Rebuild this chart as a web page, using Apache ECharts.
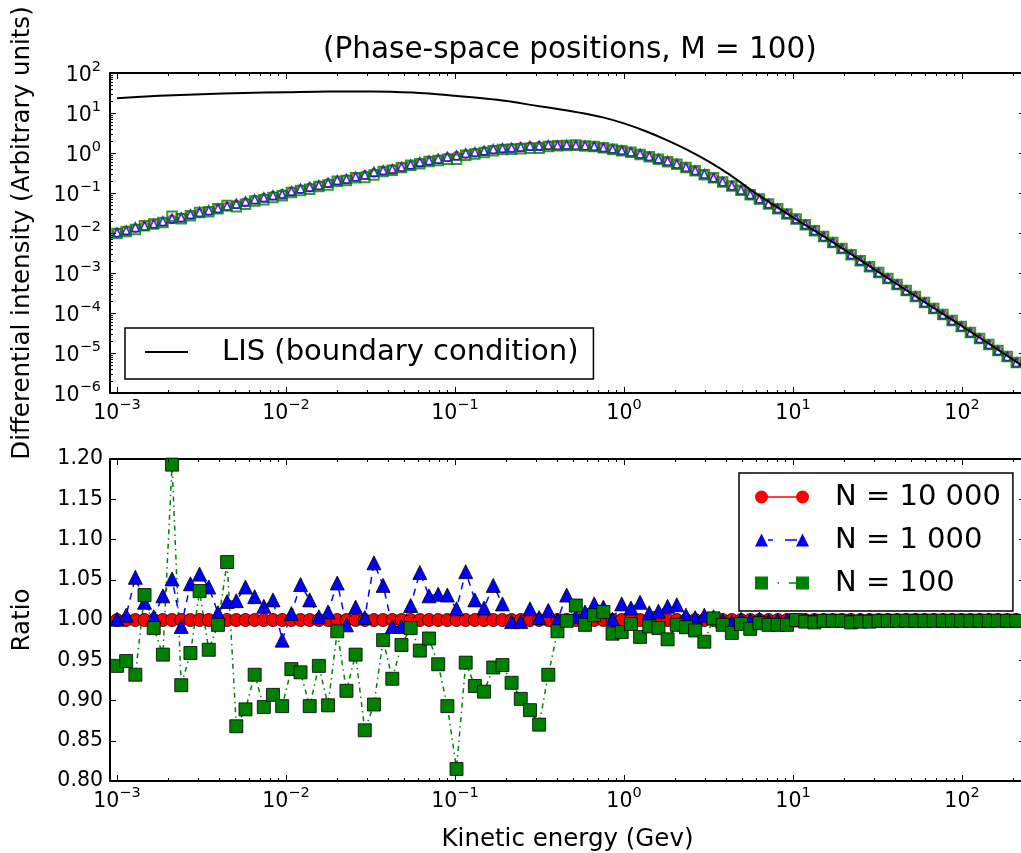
<!DOCTYPE html>
<html>
<head>
<meta charset="utf-8">
<script src="https://cdn.jsdelivr.net/npm/echarts@6/dist/echarts.min.js"></script>
<style>
html,body{margin:0;padding:0;background:#fff;}
#chart{width:1021px;height:853px;}
</style>
</head>
<body>
<div id="chart"></div>
<script>
// ---------------- DATA ----------------
// Kinetic energy grid (GeV), one value per marker
const energy = [
  0.001, 0.001133, 0.001284, 0.001455, 0.001649, 0.001869, 0.002117, 0.002399, 0.002719, 0.003081,
  0.003491, 0.003956, 0.004483, 0.005080, 0.005757, 0.006524, 0.007393, 0.008377, 0.009493, 0.01076,
  0.01219, 0.01381, 0.01565, 0.01774, 0.02010, 0.02278, 0.02581, 0.02925, 0.03314, 0.03756,
  0.04256, 0.04823, 0.05465, 0.06193, 0.07018, 0.07952, 0.09012, 0.1021, 0.1157, 0.1311,
  0.1486, 0.1684, 0.1908, 0.2162, 0.2450, 0.2777, 0.3146, 0.3565, 0.4040, 0.4578,
  0.5188, 0.5879, 0.6662, 0.7549, 0.8555, 0.9694, 1.099, 1.245, 1.411, 1.599,
  1.811, 2.053, 2.326, 2.636, 2.987, 3.385, 3.835, 4.346, 4.925, 5.581,
  6.324, 7.166, 8.121, 9.202, 10.43, 11.82, 13.39, 15.17, 17.19, 19.48,
  22.08, 25.02, 28.35, 32.13, 36.41, 41.26, 46.75, 52.98, 60.03, 68.03,
  77.09, 87.36, 98.99, 112.2, 127.1, 144.1, 163.2, 185.0, 209.6
];
// Modulated differential intensity (N = 10 000 reference curve, top panel)
const flux = [
  1.023e-2, 1.148e-2, 1.318e-2, 1.479e-2, 1.698e-2, 1.905e-2, 2.188e-2, 2.455e-2, 2.818e-2, 3.162e-2,
  3.548e-2, 4.074e-2, 4.571e-2, 5.248e-2, 5.888e-2, 6.761e-2, 7.586e-2, 8.511e-2, 9.550e-2, 0.1096,
  0.1230, 0.1380, 0.1549, 0.1778, 0.1995, 0.2239, 0.2512, 0.2818, 0.3162, 0.3548,
  0.3981, 0.4467, 0.5012, 0.5623, 0.6310, 0.6918, 0.7762, 0.8511, 0.9333, 1.023,
  1.122, 1.202, 1.288, 1.349, 1.413, 1.479, 1.514, 1.549, 1.549, 1.549,
  1.549, 1.514, 1.445, 1.349, 1.259, 1.148, 1.047, 0.9333, 0.8128, 0.7079,
  0.6166, 0.5248, 0.4365, 0.3631, 0.2951, 0.2399, 0.1905, 0.1514, 0.1175, 9.120e-2,
  7.079e-2, 5.370e-2, 4.074e-2, 3.020e-2, 2.239e-2, 1.622e-2, 1.148e-2, 8.128e-3, 5.754e-3, 4.074e-3,
  2.884e-3, 2.042e-3, 1.445e-3, 1.023e-3, 7.244e-4, 5.129e-4, 3.631e-4, 2.570e-4, 1.820e-4, 1.288e-4,
  9.120e-5, 6.457e-5, 4.571e-5, 3.236e-5, 2.291e-5, 1.622e-5, 1.148e-5, 8.128e-6, 5.754e-6
];
// LIS (boundary condition) curve
const lisEnergy = [
  0.001, 0.001778, 0.003162, 0.005623, 0.01, 0.01778, 0.03162, 0.05623, 0.1, 0.1778,
  0.3162, 0.4217, 0.5623, 0.7499, 1, 1.334, 1.778, 2.371, 3.162, 4.217,
  5.623, 7.499, 10, 17.78, 31.62, 56.23, 100, 177.8, 229.1
];
const lisFlux = [
  23.44, 26.92, 29.51, 31.62, 33.11, 34.67, 34.67, 32.36, 26.92, 21.38,
  14.79, 12.30, 10.00, 7.762, 5.495, 3.548, 2.138, 1.202, 0.6166, 0.2884,
  0.1202, 0.05370, 0.02455, 5.370e-3, 1.096e-3, 2.239e-4, 4.677e-5, 9.550e-6, 4.677e-6
];
// Ratio panel
const ratioN10000 = [
  1.000, 1.000, 1.000, 1.000, 1.000, 1.000, 1.000, 1.000, 1.000, 1.000,
  1.000, 1.000, 1.000, 1.000, 1.000, 1.000, 1.000, 1.000, 1.000, 1.000,
  1.000, 1.000, 1.000, 1.000, 1.000, 1.000, 1.000, 1.000, 1.000, 1.000,
  1.000, 1.000, 1.000, 1.000, 1.000, 1.000, 1.000, 1.000, 1.000, 1.000,
  1.000, 1.000, 1.000, 1.000, 1.000, 1.000, 1.000, 1.000, 1.000, 1.000,
  1.000, 1.000, 1.000, 1.000, 1.000, 1.000, 1.000, 1.000, 1.000, 1.000,
  1.000, 1.000, 1.000, 1.000, 1.000, 1.000, 1.000, 1.000, 1.000, 1.000,
  1.000, 1.000, 1.000, 1.000, 1.000, 1.000, 1.000, 1.000, 1.000, 1.000,
  1.000, 1.000, 1.000, 1.000, 1.000, 1.000, 1.000, 1.000, 1.000, 1.000,
  1.000, 1.000, 1.000, 1.000, 1.000, 1.000, 1.000, 1.000, 1.000
];
const ratioN1000 = [
  1.001, 1.006, 1.053, 1.022, 1.004, 1.030, 1.051, 0.992, 1.045, 1.057,
  1.041, 1.009, 1.023, 1.024, 1.041, 1.029, 1.017, 1.025, 0.975, 1.008,
  1.044, 1.025, 1.004, 1.010, 1.046, 0.994, 1.016, 1.003, 1.071, 1.043,
  0.992, 0.992, 1.018, 1.059, 1.030, 1.032, 1.031, 1.014, 1.060, 1.025,
  1.015, 1.043, 1.020, 0.998, 0.998, 1.014, 1.003, 1.012, 1.000, 1.031,
  1.004, 1.010, 1.020, 1.016, 1.001, 1.020, 1.015, 1.022, 1.009, 1.011,
  1.017, 1.019, 1.006, 1.003, 1.006, 1.004, 0.999, 0.997, 1.001, 1.000,
  1.001, 0.999, 1.000, 1.000, 1.000, 1.000, 1.000, 1.000, 1.000, 1.000,
  1.000, 1.000, 1.000, 1.000, 1.000, 1.000, 1.000, 1.000, 1.000, 1.000,
  1.000, 1.000, 1.000, 1.000, 1.000, 1.000, 1.000, 1.000, 1.000
];
const ratioN100 = [
  0.943, 0.949, 0.932, 1.031, 0.990, 0.957, 1.193, 0.919, 0.959, 1.036,
  0.963, 0.994, 1.072, 0.868, 0.889, 0.932, 0.892, 0.907, 0.893, 0.939,
  0.935, 0.893, 0.943, 0.894, 0.986, 0.912, 0.957, 0.863, 0.895, 0.975,
  0.927, 0.969, 0.990, 0.962, 0.977, 0.945, 0.893, 0.815, 0.947, 0.918,
  0.911, 0.941, 0.944, 0.922, 0.902, 0.888, 0.870, 0.932, 0.986, 0.999,
  1.018, 0.994, 1.006, 1.010, 0.983, 0.985, 0.995, 0.979, 0.992, 0.990,
  0.976, 0.994, 0.991, 0.987, 0.973, 1.002, 0.994, 0.984, 0.995, 0.989,
  0.996, 0.994, 0.994, 0.994, 1.000, 0.998, 0.997, 0.999, 0.999, 0.999,
  0.997, 0.998, 0.998, 0.999, 0.999, 0.999, 0.999, 0.999, 0.999, 0.999,
  0.999, 0.999, 0.999, 0.999, 0.999, 0.999, 0.999, 0.999, 0.999
];
const seriesNames = ['N = 10 000', 'N = 1 000', 'N = 100'];
const lisName = 'LIS (boundary condition)';
const titleText = '(Phase-space positions, M = 100)';
const yTopName = 'Differential intensity (Arbitrary units)';
const yBottomName = 'Ratio';
const xName = 'Kinetic energy (Gev)';
// axis ranges
const X_MIN = 9.09e-4, X_MAX = 235.9;
const Y_TOP_MIN = 1e-6, Y_TOP_MAX = 100;
const Y_BOT_MIN = 0.80, Y_BOT_MAX = 1.20, Y_BOT_STEP = 0.05;

// ---------------- STYLE / BUILD ----------------
const FONT = 'DejaVu Sans';
const RED = '#ff0000', BLUE = '#0000ff', GREEN = '#008000';

const rich = {
  b: {fontFamily: FONT, fontSize: 20.5, lineHeight: 26, verticalAlign: 'bottom', color: '#000'},
  s: {fontFamily: FONT, fontSize: 14.5, lineHeight: 12, verticalAlign: 'top', color: '#000'}
};
function pow10Label(v) {
  const e = Math.log10(v);
  const r = Math.round(e);
  if (Math.abs(e - r) > 0.01) return '';
  const s = r < 0 ? '\u2212' + (-r) : String(r);
  return '{b|10}{s|' + s + '}';
}
function axisBase(g, pos, showLabels) {
  return {
    gridIndex: g, position: pos,
    axisLine: {show: true, onZero: false, lineStyle: {color: '#000', width: 2}},
    axisTick: {show: true, inside: true, length: 6, lineStyle: {color: '#000', width: 1}},
    splitLine: {show: false},
    minorTick: {show: false},
    minorSplitLine: {show: false},
    axisLabel: {show: showLabels, color: '#000', fontFamily: FONT},
    nameTextStyle: {fontFamily: FONT, fontSize: 24.5, color: '#000'},
    nameMoveOverlap: false,
    silent: true
  };
}
function logX(g, pos, labels, name) {
  const a = axisBase(g, pos, labels);
  a.type = 'log'; a.logBase = 10; a.min = X_MIN; a.max = X_MAX;
  a.axisLabel.formatter = pow10Label; a.axisLabel.rich = rich; a.axisLabel.margin = 5;
  if (name) { a.name = name; a.nameLocation = 'middle'; a.nameGap = 46; }
  return a;
}
function logYTop(pos, labels, name) {
  const a = axisBase(0, pos, labels);
  a.type = 'log'; a.logBase = 10; a.min = Y_TOP_MIN; a.max = Y_TOP_MAX;
  a.axisLabel.formatter = pow10Label; a.axisLabel.rich = rich; a.axisLabel.margin = 9;
  a.axisLabel.showMinLabel = true; a.axisLabel.showMaxLabel = true;
  if (name) { a.name = name; a.nameLocation = 'middle'; a.nameGap = 75; }
  return a;
}
function linYBot(pos, labels, name) {
  const a = axisBase(1, pos, labels);
  a.type = 'value'; a.min = Y_BOT_MIN; a.max = Y_BOT_MAX; a.interval = Y_BOT_STEP;
  a.axisLabel.formatter = v => v.toFixed(2); a.axisLabel.fontSize = 20.5; a.axisLabel.margin = 7;
  a.axisLabel.showMinLabel = true; a.axisLabel.showMaxLabel = true;
  if (name) { a.name = name; a.nameLocation = 'middle'; a.nameGap = 75; }
  return a;
}
function minorValues(lo, hi) {
  const out = [];
  for (let e = -8; e <= 4; e++) for (let m = 2; m <= 9; m++) {
    const v = m * Math.pow(10, e);
    if (v > lo * 1.0001 && v < hi * 0.9999) out.push(v);
  }
  return out;
}
function minorTickSeries(xIdx, yIdx, xVals, yVals, refX, refY) {
  const L = 3;
  const data = xVals.map(v => [v, refY, 0]).concat(yVals.map(v => [refX, v, 1]));
  return {
    type: 'custom', xAxisIndex: xIdx, yAxisIndex: yIdx, silent: true, z: 10,
    encode: {x: 0, y: 1}, data: data, clip: false,
    renderItem: function (params, api) {
      const cs = params.coordSys;
      const p = api.coord([api.value(0), api.value(1)]);
      const st = {stroke: '#000', lineWidth: 1};
      if (api.value(2) === 0) {
        const x = Math.round(p[0]) + 0.5;
        return {type: 'group', children: [
          {type: 'line', shape: {x1: x, y1: cs.y + cs.height, x2: x, y2: cs.y + cs.height - L}, style: st},
          {type: 'line', shape: {x1: x, y1: cs.y, x2: x, y2: cs.y + L}, style: st}
        ]};
      }
      const y = Math.round(p[1]) + 0.5;
      return {type: 'group', children: [
        {type: 'line', shape: {x1: cs.x, y1: y, x2: cs.x + L, y2: y}, style: st},
        {type: 'line', shape: {x1: cs.x + cs.width, y1: y, x2: cs.x + cs.width - L, y2: y}, style: st}
      ]};
    }
  };
}

const lisData = lisEnergy.map((e, i) => [e, lisFlux[i]]);
const topData = r => energy.map((e, i) => [e, flux[i] * r[i]]);
const ratioData = r => energy.map((e, i) => [e, r[i]]);

const iconCircles = 'path://M0,6.5 A6.5,6.5 0 1,1 13,6.5 A6.5,6.5 0 1,1 0,6.5 Z M12,5.8 L42,5.8 L42,7.2 L12,7.2 Z M41,6.5 A6.5,6.5 0 1,1 54,6.5 A6.5,6.5 0 1,1 41,6.5 Z';
const iconTriangles = 'path://M0,13 L6.5,0 L13,13 Z M13,5.8 L18,5.8 L18,7.2 L13,7.2 Z M30,5.8 L42,5.8 L42,7.2 L30,7.2 Z M41,13 L47.5,0 L54,13 Z';
const iconSquares = 'path://M0,0 L13,0 L13,13 L0,13 Z M22.5,5.8 L24,5.8 L24,7.2 L22.5,7.2 Z M34,5.8 L41,5.8 L41,7.2 L34,7.2 Z M41,0 L54,0 L54,13 L41,13 Z';
const iconLine = 'path://M0,0 L43,0 L43,2 L0,2 Z';

const option = {
  animation: false,
  backgroundColor: '#fff',
  textStyle: {fontFamily: FONT},
  title: {
    text: titleText, left: 323, top: 33, padding: 0,
    textStyle: {fontFamily: FONT, fontSize: 29.5, fontWeight: 'normal', color: '#000', lineHeight: 34}
  },
  grid: [
    {left: 110, top: 73, width: 915, height: 320, containLabel: false, outerBoundsMode: 'none'},
    {left: 110, top: 459, width: 915, height: 322, containLabel: false, outerBoundsMode: 'none'}
  ],
  xAxis: [
    logX(0, 'bottom', true, ''),
    logX(0, 'top', false, ''),
    logX(1, 'bottom', true, xName),
    logX(1, 'top', false, '')
  ],
  yAxis: [
    logYTop('left', true, yTopName),
    logYTop('right', false, ''),
    linYBot('left', true, yBottomName),
    linYBot('right', false, '')
  ],
  legend: [
    {
      data: [{name: lisName, icon: iconLine}],
      left: 125, top: 328, orient: 'vertical',
      padding: [7, 15, 10, 20],
      itemWidth: 43, itemHeight: 2, itemGap: 9,
      borderColor: '#000', borderWidth: 1.5, backgroundColor: '#fff', borderRadius: 0,
      selectedMode: false,
      itemStyle: {borderWidth: 0},
      textStyle: {fontFamily: FONT, fontSize: 29, color: '#000', lineHeight: 34, padding: [0, 0, 0, 29]}
    },
    {
      data: [
        {name: seriesNames[0], icon: iconCircles},
        {name: seriesNames[1], icon: iconTriangles},
        {name: seriesNames[2], icon: iconSquares}
      ],
      left: 739, top: 473, orient: 'vertical',
      padding: [7, 12, 11, 16],
      itemWidth: 54, itemHeight: 13, itemGap: 9,
      borderColor: '#000', borderWidth: 1.5, backgroundColor: '#fff', borderRadius: 0,
      selectedMode: false,
      itemStyle: {borderWidth: 0},
      textStyle: {fontFamily: FONT, fontSize: 29, color: '#000', lineHeight: 34, padding: [0, 0, 0, 21]}
    }
  ],
  series: [
    {
      name: lisName, type: 'line', xAxisIndex: 0, yAxisIndex: 0, data: lisData,
      symbol: 'none', smooth: 0.3, z: 3,
      lineStyle: {color: '#000', width: 2}, itemStyle: {color: '#000'}
    },
    {
      name: seriesNames[0] + ' (intensity)', type: 'scatter', xAxisIndex: 0, yAxisIndex: 0,
      data: topData(ratioN10000), symbol: 'circle', symbolSize: 8, z: 2,
      itemStyle: {color: 'rgba(0,0,0,0)', borderColor: RED, borderWidth: 1.6}
    },
    {
      name: seriesNames[1] + ' (intensity)', type: 'scatter', xAxisIndex: 0, yAxisIndex: 0,
      data: topData(ratioN1000), symbol: 'triangle', symbolSize: 8.5, z: 2,
      itemStyle: {color: 'rgba(0,0,0,0)', borderColor: BLUE, borderWidth: 1.8}
    },
    {
      name: seriesNames[2] + ' (intensity)', type: 'scatter', xAxisIndex: 0, yAxisIndex: 0,
      data: topData(ratioN100), symbol: 'rect', symbolSize: 9.5, z: 2,
      itemStyle: {color: 'rgba(0,0,0,0)', borderColor: GREEN, borderWidth: 2}
    },
    {
      name: seriesNames[0], type: 'line', xAxisIndex: 2, yAxisIndex: 2, data: ratioData(ratioN10000),
      symbol: 'circle', symbolSize: 13, showSymbol: true, z: 2,
      lineStyle: {color: RED, width: 1.5},
      itemStyle: {color: RED, borderColor: '#000', borderWidth: 0.8}
    },
    {
      name: seriesNames[1], type: 'line', xAxisIndex: 2, yAxisIndex: 2, data: ratioData(ratioN1000),
      symbol: 'triangle', symbolSize: 14, showSymbol: true, z: 2,
      lineStyle: {color: BLUE, width: 1.5, type: [7, 6]},
      itemStyle: {color: BLUE, borderColor: '#000', borderWidth: 0.8}
    },
    {
      name: seriesNames[2], type: 'line', xAxisIndex: 2, yAxisIndex: 2, data: ratioData(ratioN100),
      symbol: 'rect', symbolSize: 13, showSymbol: true, z: 2,
      lineStyle: {color: GREEN, width: 1.5, type: [5, 4, 1.5, 4]},
      itemStyle: {color: GREEN, borderColor: '#000', borderWidth: 0.8}
    },
    minorTickSeries(0, 0, minorValues(X_MIN, X_MAX), minorValues(Y_TOP_MIN, Y_TOP_MAX), 1, 1),
    minorTickSeries(2, 2, minorValues(X_MIN, X_MAX), [], 1, 1.0)
  ]
};

const chart = echarts.init(document.getElementById('chart'), null, {renderer: 'canvas'});
chart.setOption(option);
</script>
</body>
</html>
